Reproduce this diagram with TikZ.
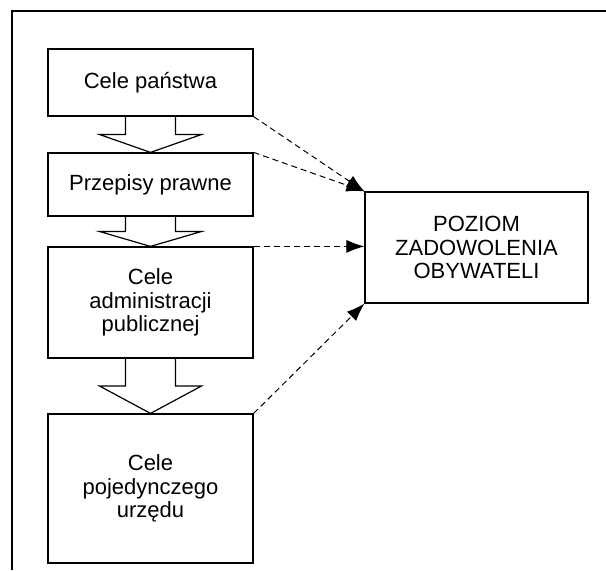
\documentclass[tikz,border=0pt]{standalone}
\usepackage{fontspec}
\setmainfont{Liberation Sans}
\usetikzlibrary{arrows.meta,calc}

\begin{document}
\begin{tikzpicture}[x=0.5pt,y=0.5pt,
	box/.style={draw, line width=0.6pt, inner sep=0pt, align=center, minimum width=102.5pt, font=\fontsize{11}{11.75}\selectfont},
	flow/.style={draw, line width=0.6pt, line join=miter},
	link/.style={draw, line width=0.5pt, dash pattern=on 3pt off 2pt, -{Latex[length=9pt,width=6.5pt]}}]
	
	\useasboundingbox (0,0) rectangle (606,570);
	
	% Frame
	\draw [line width=0.6pt] (12,0) -- (12,559) -- (606,559);
	
	%% GOALS
	\node [box, minimum height=33.5pt] (cel) at (150.5,487.5) {Cele państwa};
	\node [box, minimum height=31.5pt] (prz) at (150.5,385.5) {Przepisy prawne};
	\node [box, minimum height=55.5pt] (adm) at (150.5,267.5) {Cele\\administracji\\publicznej};
	\node [box, minimum height=74.5pt] (urz) at (150.5,81.5) {Cele\\pojedynczego\\urzędu};
	
	% Satisfaction
	\node [box, minimum width=111.5pt, minimum height=55.5pt] (obyw) at (476.5,322.5) {POZIOM\\ZADOWOLENIA\\OBYWATELI};
	
	% Block arrows
	\foreach \a/\b in {cel/prz, prz/adm, adm/urz}
	{
		\draw [flow] let \p1 = (\a.south), \p2 = (\b.north) in
			(\x1-12.5pt,\y1) -- (\x1-12.5pt,{(\y1+\y2)/2}) -- (\x1-25.5pt,{(\y1+\y2)/2})
			-- (\x2,\y2) -- (\x1+25.5pt,{(\y1+\y2)/2}) -- (\x1+12.5pt,{(\y1+\y2)/2}) -- (\x1+12.5pt,\y1);
	}
	
	% Dashed links
	\draw [link] (cel.south east) -- (obyw.north west);
	\draw [link] (prz.north east) -- (obyw.north west);
	\draw [link] (adm.north east) -- (adm.north east -| obyw.west);
	\draw [link] (urz.north east) -- (obyw.south west);
	
\end{tikzpicture}
\end{document}
